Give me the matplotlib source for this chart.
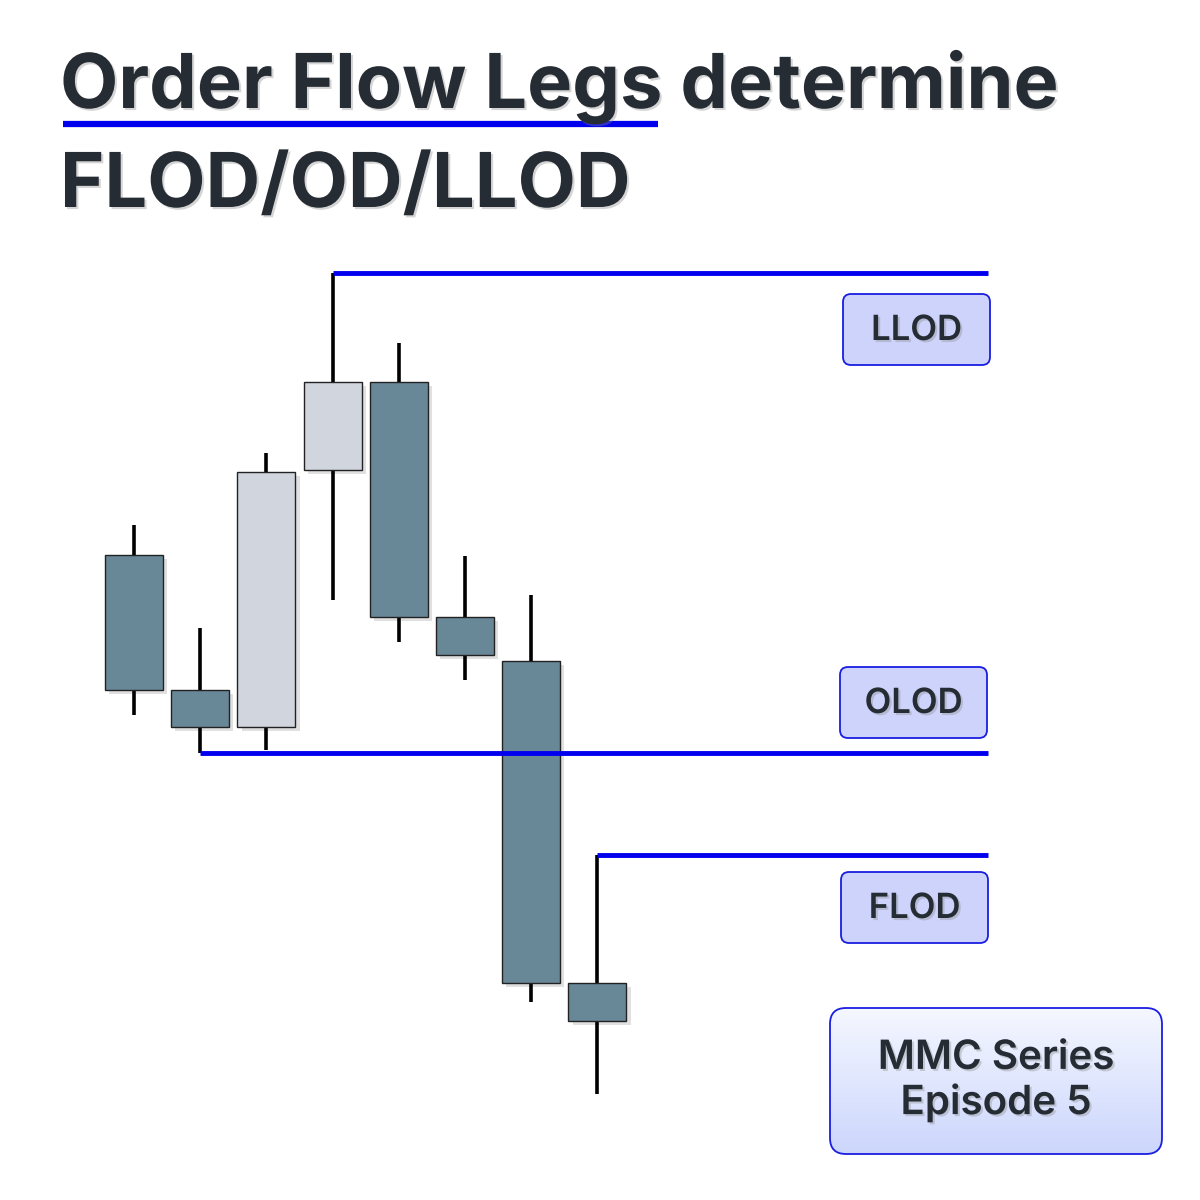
import numpy as np
import matplotlib.pyplot as plt
from matplotlib.patches import Rectangle, FancyBboxPatch
import matplotlib.patheffects as pe

# candle data (price units)
opens  = [645, 510, 473, 730, 818, 583, 539, 217]
closes = [510, 473, 728, 818, 583, 545, 217, 179]
highs  = [675, 572, 747, 927, 857, 644, 605, 345]
lows   = [485, 447, 450, 600, 558, 520, 198, 106]

# levels: (name, price, index of candle where the line starts)
level_names = ["LLOD", "OLOD", "FLOD"]
level_prices = [927, 447, 345]
level_start = [3, 1, 7]

dark_col = "#688797"
light_col = "#d0d5de"
blue = "#0000ee"
text_col = "#262c33"

plt.rcParams['font.family'] = ['Inter', 'DejaVu Sans']

fig = plt.figure(figsize=(12, 12), dpi=100)
fig.patch.set_facecolor("white")

# chart axes: x in candle index, y in price
ax = fig.add_axes([0, 0, 1, 1])
step = 66.2
x0 = 134
ax.set_xlim(-x0 / step, (1200 - x0) / step)
ax.set_ylim(0, 1200)
ax.axis("off")

width = 0.876
line_end = (988 - x0) / step
shadow = [pe.SimplePatchShadow(offset=(3, -3), shadow_rgbFace="#000000", alpha=0.12), pe.Normal()]

for i in range(len(opens)):
    o, c, h, l = opens[i], closes[i], highs[i], lows[i]
    ax.vlines(i, l, h, color="black", lw=2.6, zorder=2)
    col = light_col if c > o else dark_col
    r = Rectangle((i - width / 2, min(o, c)), width, abs(c - o), facecolor=col,
                  edgecolor="#222222", lw=1.0, zorder=3)
    r.set_path_effects(shadow)
    ax.add_patch(r)

for name, p, s in zip(level_names, level_prices, level_start):
    ax.hlines(p, s, line_end, color=blue, lw=3.5, zorder=4)

# overlay axes for text and boxes, pixel layout
ov = fig.add_axes([0, 0, 1, 1], facecolor="none")
ov.set_xlim(0, 1200)
ov.set_ylim(1200, 0)
ov.axis("off")

txt_shadow = [pe.withSimplePatchShadow(offset=(1.5, -1.5), shadow_rgbFace="#888888", alpha=0.35)]

ov.text(60, 108, "Order Flow Legs determine", fontsize=54.5, fontweight="bold",
        color=text_col, va="baseline", ha="left", path_effects=txt_shadow)
ov.text(60, 207, "FLOD/OD/LLOD", fontsize=54.5, fontweight="bold",
        color=text_col, va="baseline", ha="left", path_effects=txt_shadow)
ov.plot([63, 658], [124, 124], color=blue, lw=4.5, solid_capstyle="butt")

# label boxes
box_pos = [(843, 294), (840, 667), (841, 872)]
for name, (bx, by) in zip(level_names, box_pos):
    b = FancyBboxPatch((bx, by), 147, 71, boxstyle="round,pad=0,rounding_size=8",
                       facecolor="#cdd3fb", edgecolor="#1a1ee0", lw=1.3)
    ov.add_patch(b)
    ov.text(bx + 73.5, by + 37, name, fontsize=25, fontweight="semibold",
            color=text_col, ha="center", va="center", path_effects=txt_shadow)

# series box with gradient
mb = FancyBboxPatch((830, 1008), 332, 146, boxstyle="round,pad=0,rounding_size=16",
                    facecolor="none", edgecolor="#1a1ee0", lw=1.3, zorder=3)
ov.add_patch(mb)
grad = np.linspace(0, 1, 100).reshape(-1, 1)
top = np.array([0.96, 0.97, 1.0])
bot = np.array([0.80, 0.84, 0.99])
img = top + grad[..., None] * (bot - top)
im = ov.imshow(img, extent=(830, 1162, 1154, 1008), zorder=2, aspect="auto")
im.set_clip_path(mb)
ov.set_xlim(0, 1200)
ov.set_ylim(1200, 0)
ov.text(996, 1081, "MMC Series\nEpisode 5", fontsize=29, fontweight="semibold",
        color=text_col, ha="center", va="center", linespacing=1.2, zorder=4,
        path_effects=txt_shadow)

fig.savefig("out.png", dpi=100, facecolor="white")
